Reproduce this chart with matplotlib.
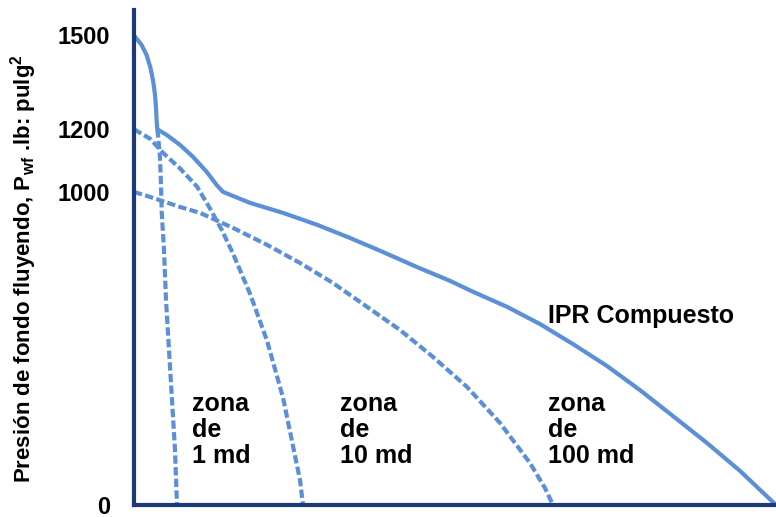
import matplotlib
matplotlib.use("Agg")
import matplotlib.pyplot as plt

plt.rcParams['font.family'] = ['Liberation Sans', 'DejaVu Sans']
plt.rcParams['mathtext.fontset'] = 'custom'
plt.rcParams['mathtext.rm'] = 'Liberation Sans:bold'
plt.rcParams['mathtext.it'] = 'Liberation Sans:bold'
plt.rcParams['mathtext.bf'] = 'Liberation Sans:bold'

# Curvas (q en unidades arbitrarias, p en lb/pulg2)
q_comp = [0, 7.5, 12.5, 16.5, 19.3, 21, 22, 22.7, 23.3, 32.7, 46, 59, 72.7, 82.7, 89,
          116, 149, 183, 216, 249, 283, 316, 339, 373, 406, 439, 473, 506, 539, 573, 606, 642]
p_comp = [1500, 1470, 1438, 1396, 1351, 1310, 1268, 1224, 1200, 1182, 1150, 1112, 1064, 1022, 1000,
          965, 933, 895, 853, 808, 760, 716, 681, 633, 578, 514, 444, 367, 284, 198, 109, 0]

q_z1 = [23.3, 24, 26, 27, 27.7, 30, 32, 35, 38, 41, 43]
p_z1 = [1200, 1182, 1109, 1022, 936, 815, 655, 495, 335, 176, 0]

q_z10 = [0, 16, 29, 46, 63, 76, 88, 99, 116, 133, 149, 166, 169]
p_z10 = [1200, 1170, 1125, 1075, 1017, 947, 877, 803, 675, 525, 343, 80, 0]

q_z100 = [0, 16, 46, 66, 99, 133, 166, 199, 233, 266, 299, 333, 366, 396, 411, 419]
p_z100 = [1000, 984, 952, 933, 885, 831, 773, 709, 633, 559, 473, 377, 262, 134, 54, 0]

yticks = [0, 1000, 1200, 1500]

linea = '#5b8fd8'
eje = '#1c3a7a'

fig = plt.figure(figsize=(7.76, 5.17), dpi=100)
ax = fig.add_axes([134/776, 12/517, 1 - 134/776, 495/517])

ax.plot(q_comp, p_comp, color=linea, lw=3, solid_joinstyle='round')
for q, p in [(q_z1, p_z1), (q_z10, p_z10), (q_z100, p_z100)]:
    ax.plot(q, p, color=linea, lw=3, dashes=(2, 0.8))

ax.set_xlim(0, 642)
ax.set_ylim(0, 1581)
ax.set_xticks([])
ax.set_yticks(yticks)
ax.set_yticklabels([str(v) for v in yticks], fontsize=17, fontweight='bold')
ax.tick_params(axis='y', length=0, pad=17)
for s in ['top', 'right']:
    ax.spines[s].set_visible(False)
for s in ['left', 'bottom']:
    ax.spines[s].set_color(eje)
    ax.spines[s].set_linewidth(3)

fig.text(24/776, 1 - 269/517, r'Presión de fondo fluyendo, P$_{wf}$ .lb: pulg$^2$',
         rotation=90, ha='center', va='center', fontsize=16, fontweight='bold')

# Etiquetas de zonas
ax.annotate('IPR Compuesto', xy=(548 - 134, (505 - 316) / 0.313), fontsize=18,
            fontweight='bold', ha='left', va='center')
for x0, txt in [(192, 'zona\nde\n1 md'), (340, 'zona\nde\n10 md'), (548, 'zona\nde\n100 md')]:
    ax.annotate(txt, xy=(x0 - 134, (505 - 392) / 0.313), fontsize=18, fontweight='bold',
                ha='left', va='top', linespacing=1.1)

fig.savefig('out.png', dpi=100)
